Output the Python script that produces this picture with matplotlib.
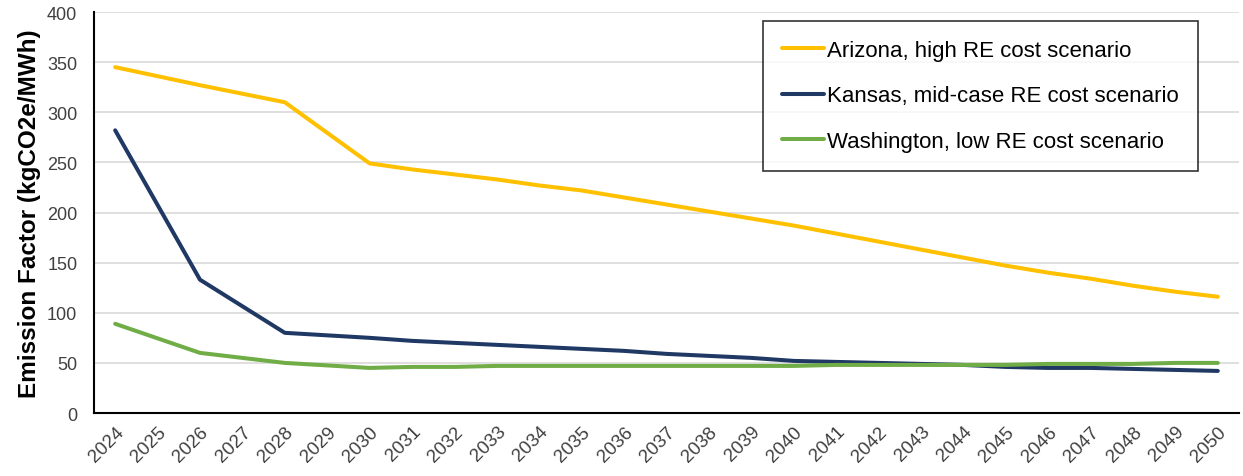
import matplotlib.pyplot as plt

# data (2025, 2027, 2029 are straight segments, no points)
years = [2024, 2026, 2028, 2030, 2031, 2032, 2033, 2034, 2035, 2036, 2037, 2038, 2039,
         2040, 2041, 2042, 2043, 2044, 2045, 2046, 2047, 2048, 2049, 2050]
arizona = [345, 327, 310, 249, 243, 238, 233, 227, 222, 215, 208, 201, 194,
           187, 179, 171, 163, 155, 147, 140, 134, 127, 121, 116]
kansas = [282, 133, 80, 75, 72, 70, 68, 66, 64, 62, 59, 57, 55,
          52, 51, 50, 49, 48, 46, 45, 45, 44, 43, 42]
washington = [89, 60, 50, 45, 46, 46, 47, 47, 47, 47, 47, 47, 47,
              47, 48, 48, 48, 48, 48, 49, 49, 49, 50, 50]
tick_years = list(range(2024, 2051))

labels = ['Arizona, high RE cost scenario',
          'Kansas, mid-case RE cost scenario',
          'Washington, low RE cost scenario']
colors = ['#FFC000', '#203864', '#70AD47']

plt.rcParams['font.family'] = ['Liberation Sans', 'DejaVu Sans']

fig = plt.figure(figsize=(12.43, 4.77), dpi=100)
ax = fig.add_axes([0.0756, 0.132, 0.9212, 0.8407])

for series, lab, col in zip([arizona, kansas, washington], labels, colors):
    ax.plot(years, series, color=col, lw=2.9, label=lab, solid_capstyle='round', zorder=3)

ax.set_xlim(2023.5, 2050.5)
ax.set_ylim(0, 400)
ax.set_yticks(range(0, 401, 50))
ax.set_xticks(tick_years)
ax.set_xticklabels([str(y) for y in tick_years], rotation=45, ha='right',
                   rotation_mode='anchor', fontsize=13.5)
ax.tick_params(axis='both', length=0, colors='#404040')
ax.tick_params(axis='y', labelsize=13, pad=12)
ax.tick_params(axis='x', pad=7)
ax.grid(axis='y', color='#D9D9D9', lw=1.2)
ax.set_axisbelow(True)
for s in ['top', 'right']:
    ax.spines[s].set_visible(False)
for s in ['left', 'bottom']:
    ax.spines[s].set_color('black')
    ax.spines[s].set_linewidth(1.5)
    ax.spines[s].set_zorder(4)

ax.set_ylabel('Emission Factor (kgCO2e/MWh)', fontsize=17.5, fontweight='bold', labelpad=4)

leg = fig.legend(loc='upper left', bbox_to_anchor=(763 / 1243, 1 - 22 / 477),
                 fontsize=16, frameon=True, fancybox=False, edgecolor='black',
                 handlelength=1.9, handletextpad=0.15, labelspacing=1.1,
                 borderpad=0.85, borderaxespad=0)
leg.get_frame().set_linewidth(1.2)
for line in leg.get_lines():
    line.set_linewidth(2.9)

fig.savefig('out.png', dpi=100)
